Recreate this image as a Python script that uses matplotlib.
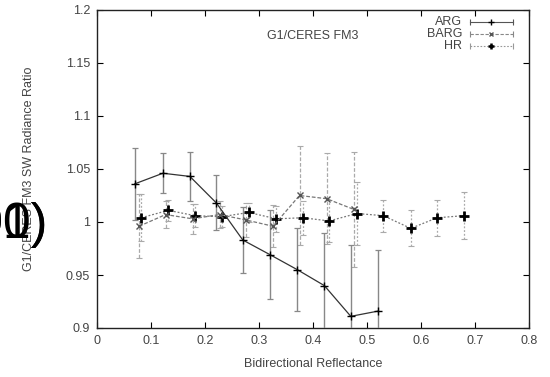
import matplotlib
matplotlib.use("Agg")
import matplotlib.pyplot as plt
import numpy as np

plt.rcParams['font.family'] = ['Liberation Sans', 'DejaVu Sans']

# ARG
arg_x = [0.070, 0.122, 0.172, 0.221, 0.270, 0.321, 0.371, 0.421, 0.470, 0.521]
arg_y = [1.036, 1.046, 1.043, 1.018, 0.983, 0.969, 0.955, 0.940, 0.911, 0.916]
arg_e = [0.034, 0.019, 0.023, 0.026, 0.031, 0.042, 0.039, 0.050, 0.067, 0.058]
# BARG
barg_x = [0.078, 0.127, 0.177, 0.227, 0.275, 0.326, 0.375, 0.425, 0.475]
barg_y = [0.996, 1.007, 1.003, 1.007, 1.002, 0.996, 1.025, 1.022, 1.012]
barg_e = [0.030, 0.013, 0.014, 0.013, 0.016, 0.020, 0.047, 0.043, 0.054]
# HR
hr_x = [0.082, 0.132, 0.181, 0.231, 0.281, 0.332, 0.381, 0.430, 0.481, 0.530, 0.581, 0.630, 0.680]
hr_y = [1.004, 1.011, 1.006, 1.005, 1.009, 1.003, 1.004, 1.001, 1.008, 1.006, 0.994, 1.004, 1.006]
hr_e = [0.022, 0.010, 0.011, 0.010, 0.009, 0.012, 0.016, 0.020, 0.030, 0.015, 0.017, 0.017, 0.022]

xticks = [0, 0.1, 0.2, 0.3, 0.4, 0.5, 0.6, 0.7, 0.8]
xticklabels = ['0', '0.1', '0.2', '0.3', '0.4', '0.5', '0.6', '0.7', '0.8']
yticks = [0.9, 0.95, 1.0, 1.05, 1.1, 1.15, 1.2]
yticklabels = ['0.9', '0.95', '1', '1.05', '1.1', '1.15', '1.2']

fig = plt.figure(figsize=(5.5, 3.77), dpi=100)
ax = fig.add_axes([97/550, 1 - 328/377, (529 - 97)/550, (328 - 10)/377])

fs = 9
tc = '#444444'

# error bars
eb = ax.errorbar(hr_x, hr_y, yerr=hr_e, fmt='none', ecolor='#aaaaaa', elinewidth=0.9,
                 capsize=2, capthick=0.8, zorder=2)
eb[2][0].set_linestyle((0, (1.5, 1.5)))
eb = ax.errorbar(barg_x, barg_y, yerr=barg_e, fmt='none', ecolor='#aaaaaa', elinewidth=0.9,
                 capsize=2, capthick=0.8, zorder=2)
eb[2][0].set_linestyle((0, (3, 1.5)))
ax.errorbar(arg_x, arg_y, yerr=arg_e, fmt='none', ecolor='#888888', elinewidth=1.0,
            capsize=2, capthick=0.9, zorder=3)

# lines
ax.plot(hr_x, hr_y, linestyle=(0, (1.5, 1.5)), color='#777777', lw=0.9,
        marker='+', ms=7, mec='black', mew=2.0, zorder=4)
ax.plot(barg_x, barg_y, linestyle=(0, (3, 1.5)), color='#777777', lw=0.9,
        marker='x', ms=4, mec='#555555', mew=1.0, zorder=4)
ax.plot(arg_x, arg_y, linestyle='-', color='#333333', lw=0.9,
        marker='+', ms=6, mec='black', mew=1.0, zorder=5)

ax.set_xlim(0, 0.8)
ax.set_ylim(0.9, 1.2)
ax.set_xticks(xticks)
ax.set_xticklabels(xticklabels, fontsize=fs, color=tc)
ax.set_yticks(yticks)
ax.set_yticklabels(yticklabels, fontsize=fs, color=tc)
ax.tick_params(direction='in', length=4, width=0.8, top=True, right=True, pad=5)
for s in ax.spines.values():
    s.set_linewidth(1.0)
    s.set_color('#222222')

ax.set_xlabel('Bidirectional Reflectance', fontsize=fs, color=tc, labelpad=8)
ax.set_ylabel('G1/CERES FM3 SW Radiance Ratio', fontsize=fs, color=tc, labelpad=22)

ax.text(0.5, 1 - (36 - 10) / 318, 'G1/CERES FM3', transform=ax.transAxes,
        ha='center', va='center', fontsize=fs, color=tc)

# legend (gnuplot style)
labels = ['ARG', 'BARG', 'HR']
ys = [1 - (22 - 10) / 318, 1 - (34 - 10) / 318, 1 - (46 - 10) / 318]
styles = [('-', '#555555', '+', 5, 'black', 1.0),
          ((0, (3, 1.5)), '#888888', 'x', 3, '#555555', 1.0),
          ((0, (1.5, 1.5)), '#999999', '+', 5, 'black', 1.8)]
x0, x1 = 0.863, 0.962
for lab, yy, (ls, col, mk, ms, mc, mw) in zip(labels, ys, styles):
    ax.text(0.845, yy, lab, transform=ax.transAxes, ha='right', va='center',
            fontsize=fs, color=tc)
    ax.plot([x0, x1], [yy, yy], transform=ax.transAxes, ls=ls, color=col, lw=0.8,
            clip_on=False)
    ax.plot([x0, x1], [yy, yy], transform=ax.transAxes, ls='none', marker='|', ms=4,
            color=col, mew=0.8, clip_on=False)
    ax.plot([(x0 + x1) / 2], [yy], transform=ax.transAxes, ls='none', marker=mk, ms=ms,
            mec=mc, mew=mw, clip_on=False)

# stray overlapping text at left
for t in ['00)', '01)']:
    fig.text(47/550, 1 - 225/377, t, ha='right', va='center', fontsize=36,
             color='black', family='Liberation Sans')

fig.savefig('out.png', dpi=100)
